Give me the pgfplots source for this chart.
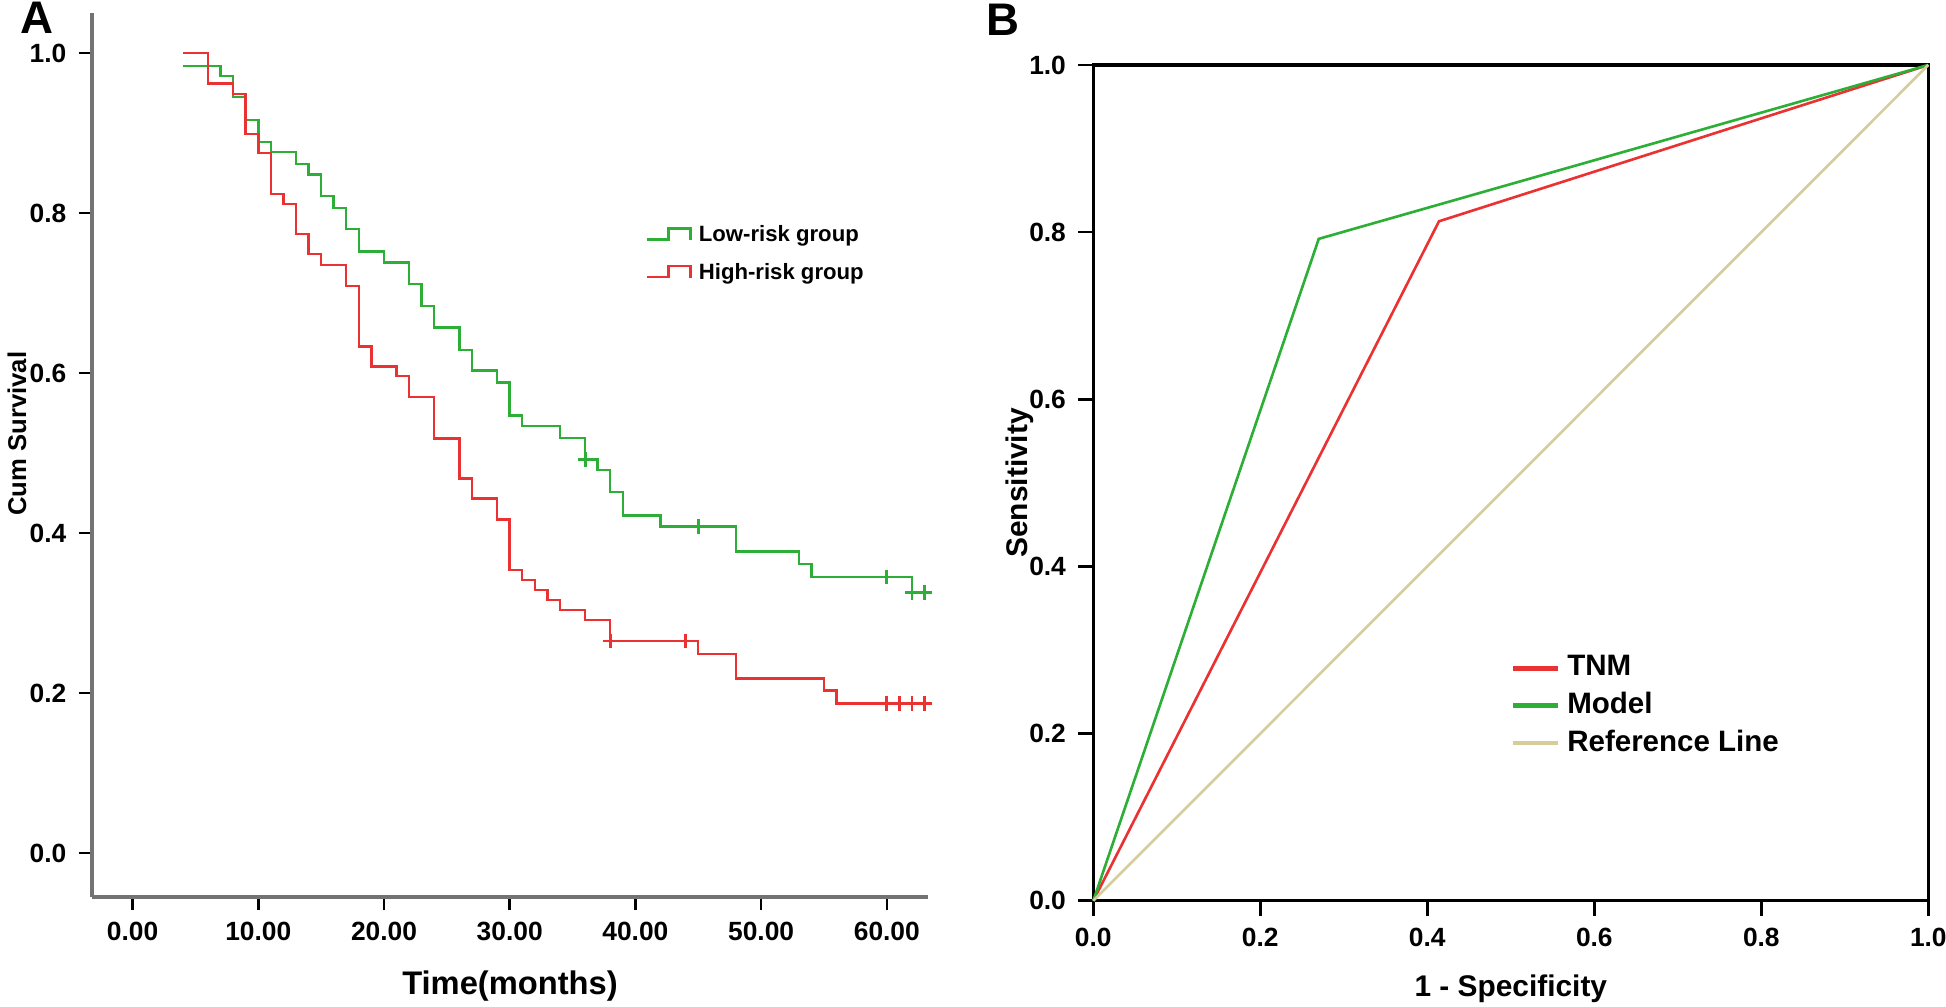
\documentclass[border=0pt]{standalone}
\usepackage{fontspec}
\setmainfont{Liberation Sans}
\usepackage{pgfplots}
\pgfplotsset{compat=1.18}
\definecolor{kmgreen}{RGB}{45,175,55}
\definecolor{kmred}{RGB}{235,50,50}
\definecolor{refline}{RGB}{214,204,156}
\definecolor{axgray}{RGB}{115,115,115}
\begin{document}
\begin{tikzpicture}
\path[use as bounding box] (0,0) rectangle (19.46cm,10.06cm);
% ---------------- Panel A ----------------
\begin{axis}[
  at={(0.917cm,1.09cm)}, anchor=south west,
  scale only axis, width=8.366cm, height=8.84cm,
  xmin=-3.25, xmax=63.3, ymin=-0.055, ymax=1.05,
  axis x line*=bottom, axis y line*=left,
  axis line style={axgray, line width=1.1pt},
  xtick={0,10,20,30,40,50,60},
  xticklabels={\textbf{0.00},\textbf{10.00},\textbf{20.00},\textbf{30.00},\textbf{40.00},\textbf{50.00},\textbf{60.00}},
  ytick={0,0.2,0.4,0.6,0.8,1.0},
  yticklabels={\textbf{0.0},\textbf{0.2},\textbf{0.4},\textbf{0.6},\textbf{0.8},\textbf{1.0}},
  tick style={black, line width=0.7pt},
  major tick length=0.13cm,
  tick align=outside,
  ticklabel style={font=\bfseries\fontsize{7.5}{9}\selectfont},
  yticklabel style={inner ysep=1pt},
  xlabel={Time(months)},
  xlabel style={font=\bfseries\fontsize{9.3}{11}\selectfont, at={(axis description cs:0.5,-0.1007)}, anchor=center},
  ylabel={Cum Survival},
  ylabel style={font=\bfseries\fontsize{7.3}{9}\selectfont, at={(axis description cs:-0.0893,0.524)}, anchor=center, rotate=0},
  clip=false,
  legend cell align=left,
  legend style={at={(axis description cs:0.661,0.726)}, anchor=west, draw=none, fill=none,
    inner sep=0pt, font=\bfseries\fontsize{6.3}{7.5}\selectfont, row sep=0.023cm},
  legend image code/.code={
    \draw[#1] (0cm,-0.03cm) -- (0.22cm,-0.03cm) -- (0.22cm,0.08cm) -- (0.44cm,0.08cm) -- (0.44cm,-0.04cm);
  },
]
\addplot[kmgreen, line width=0.7pt, const plot, mark=none] coordinates {
(4,0.984) (7,0.971) (8,0.945) (9,0.916) (10,0.889) (11,0.876) (13,0.861) (14,0.848)
(15,0.821) (16,0.806) (17,0.780) (18,0.752) (20,0.738) (22,0.711) (23,0.684) (24,0.657)
(26,0.629) (27,0.603) (29,0.588) (30,0.547) (31,0.534) (34,0.519) (36,0.492) (37,0.479)
(38,0.451) (39,0.422) (42,0.408) (48,0.377) (53,0.361) (54,0.345) (62,0.326) (63.1,0.326)
};
\addlegendentry{Low-risk group}
\addplot[kmred, line width=0.7pt, const plot, mark=none] coordinates {
(4,1.0) (6,0.962) (8,0.949) (9,0.899) (10,0.875) (11,0.824) (12,0.811) (13,0.774)
(14,0.749) (15,0.735) (17,0.709) (18,0.633) (19,0.608) (21,0.596) (22,0.570) (24,0.518)
(26,0.468) (27,0.443) (29,0.417) (30,0.354) (31,0.341) (32,0.329) (33,0.316) (34,0.304)
(36,0.291) (38,0.265) (45,0.249) (48,0.218) (55,0.203) (56,0.187) (63.1,0.187)
};
\addlegendentry{High-risk group}
\addplot[kmgreen, only marks, mark=+, mark size=2.1pt, mark options={line width=0.8pt}, forget plot] coordinates {
(36,0.492) (45,0.408) (60,0.345) (62,0.326) (63,0.326)
};
\addplot[kmred, only marks, mark=+, mark size=2.1pt, mark options={line width=0.8pt}, forget plot] coordinates {
(38,0.265) (44,0.265) (60,0.187) (61,0.187) (62,0.187) (63,0.187)
};
\end{axis}
% ---------------- Panel B ----------------
\begin{axis}[
  at={(10.933cm,1.053cm)}, anchor=south west,
  scale only axis, width=8.35cm, height=8.357cm,
  xmin=0, xmax=1, ymin=0, ymax=1,
  axis line style={black, line width=0.9pt},
  xtick={0,0.2,0.4,0.6,0.8,1.0},
  xticklabels={\textbf{0.0},\textbf{0.2},\textbf{0.4},\textbf{0.6},\textbf{0.8},\textbf{1.0}},
  ytick={0,0.2,0.4,0.6,0.8,1.0},
  yticklabels={\textbf{0.0},\textbf{0.2},\textbf{0.4},\textbf{0.6},\textbf{0.8},\textbf{1.0}},
  xtick pos=bottom, ytick pos=left,
  tick style={black, line width=0.7pt},
  major tick length=0.15cm,
  tick align=outside,
  ticklabel style={font=\bfseries\fontsize{7.5}{9}\selectfont},
  xlabel={1 - Specificity},
  xlabel style={font=\bfseries\fontsize{8.5}{10}\selectfont, at={(axis description cs:0.5,-0.105)}, anchor=center},
  ylabel={Sensitivity},
  ylabel style={font=\bfseries\fontsize{8.5}{10}\selectfont, at={(axis description cs:-0.0878,0.5)}, anchor=center, rotate=0},
  clip=false,
  legend cell align=left,
  legend style={at={(axis description cs:0.499,0.233)}, anchor=west, draw=none, fill=none,
    inner sep=0pt, font=\bfseries\fontsize{8.4}{9.5}\selectfont, row sep=-0.03cm,
    /tikz/every odd column/.append style={xshift=0.03cm}},
  legend image code/.code={
    \draw[#1, line width=1.3pt] (0cm,0cm) -- (0.45cm,0cm);
  },
]
\addplot[kmred, line width=0.75pt] coordinates {(0,0) (0.414,0.813) (1,1)};
\addlegendentry{TNM}
\addplot[kmgreen, line width=0.75pt] coordinates {(0,0) (0.27,0.792) (1,1)};
\addlegendentry{Model}
\addplot[refline, line width=0.75pt] coordinates {(0,0) (1,1)};
\addlegendentry{Reference Line}
\end{axis}
\node[anchor=south west, inner sep=0pt, font=\bfseries\fontsize{13}{13}\selectfont] at (0.2cm,9.72cm) {A};
\node[anchor=south west, inner sep=0pt, font=\bfseries\fontsize{13}{13}\selectfont] at (9.86cm,9.70cm) {B};
\end{tikzpicture}
\end{document}
